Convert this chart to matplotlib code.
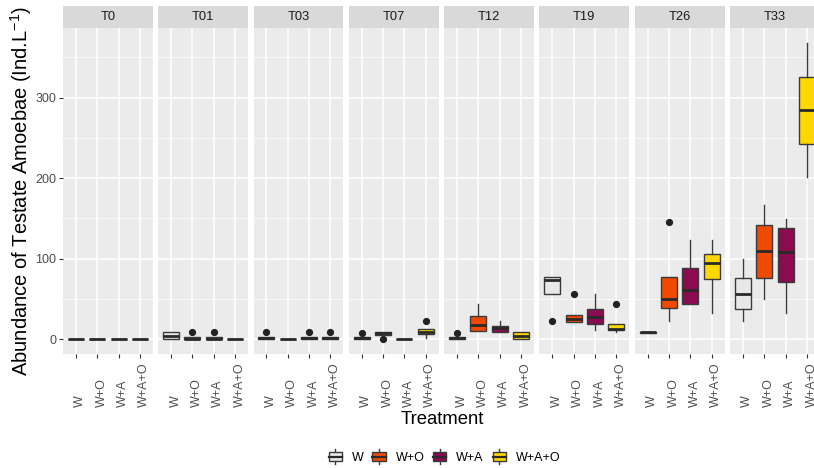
import matplotlib
matplotlib.use("Agg")
import matplotlib.pyplot as plt
from matplotlib.patches import Rectangle
from matplotlib.lines import Line2D
from matplotlib.legend_handler import HandlerBase
from matplotlib.transforms import blended_transform_factory, ScaledTranslation

plt.rcParams['font.family'] = ['Liberation Sans', 'DejaVu Sans']
plt.rcParams['mathtext.fontset'] = 'custom'
plt.rcParams['mathtext.rm'] = 'Liberation Sans'
plt.rcParams['mathtext.it'] = 'Liberation Sans:italic'

# Facets (sampling times) and treatments
times = ["T0", "T01", "T03", "T07", "T12", "T19", "T26", "T33"]
treatments = ["W", "W+O", "W+A", "W+A+O"]
fills = ["#E8E8E8", "#F04A00", "#8B0A50", "#FFD700"]

# Box statistics, one row per time, one value per treatment
whislo = [[0, 0, 0, 0],
          [0, 0, 0, 0],
          [0, 0, 0, 0],
          [0, 5.5, 0, 1],
          [0, 10, 9, 0],
          [55.5, 21.5, 11, 8.5],
          [8, 22.5, 44, 33],
          [22.5, 50.5, 33, 201]]
q1 = [[0, 0, 0, 0],
      [0, 0, 0, 0],
      [0, 0, 0, 0],
      [0, 5.5, 0, 6],
      [0, 10.5, 9.5, 0.5],
      [55.5, 21.5, 18.5, 11],
      [8, 39, 44, 75],
      [38, 75.5, 70.5, 242]]
med = [[0, 0, 0, 0],
       [4, 0.8, 0.8, 0],
       [1, 0, 1, 1],
       [1, 7.5, 0, 9],
       [1, 17, 14, 4],
       [73, 24.5, 27.5, 12.5],
       [8.3, 50, 60.5, 95],
       [55.5, 109, 108.5, 284.5]]
q3 = [[0, 0, 0, 0],
      [9, 2.5, 2.5, 0],
      [2.5, 0, 2.5, 2.5],
      [2.5, 9, 0, 12.5],
      [2.5, 28.5, 16.5, 8.5],
      [77.5, 30, 38, 19],
      [8.6, 77.5, 89, 105.5],
      [75.5, 141.5, 137.5, 325]]
whishi = [[0, 0, 0, 0],
          [9, 2.5, 2.5, 0],
          [2.5, 0, 2.5, 2.5],
          [2.5, 9, 0, 12.5],
          [2.5, 44, 22, 8.5],
          [77.5, 30, 55.5, 19],
          [8.6, 77.5, 123, 123],
          [100, 167, 149, 368]]
outliers = [[[], [], [], []],
            [[], [8.7], [8.7], []],
            [[8.7], [], [8.7], [8.7]],
            [[8], [0], [], [22]],
            [[8], [], [], []],
            [[22.5], [56], [], [44]],
            [[], [145], [], []],
            [[], [], [], []]]

edge = "#3A3A3A"

fig, axes = plt.subplots(1, 8, figsize=(8.14, 4.68), dpi=100, sharey=True)
fig.subplots_adjust(left=63/814, right=819.8/814, bottom=1-354/468,
                    top=1-28/468, wspace=0.0624)

pos = [1, 2, 3, 4]
for i, ax in enumerate(axes):
    stats = []
    for j in range(4):
        stats.append(dict(whislo=whislo[i][j], q1=q1[i][j], med=med[i][j],
                          q3=q3[i][j], whishi=whishi[i][j],
                          fliers=outliers[i][j]))
    bp = ax.bxp(stats, positions=pos, widths=0.75, patch_artist=True,
                showcaps=False,
                boxprops=dict(edgecolor=edge, linewidth=1.0),
                medianprops=dict(color="#2A2A2A", linewidth=2.0),
                whiskerprops=dict(color=edge, linewidth=1.0),
                flierprops=dict(marker='o', markersize=4.2,
                                markerfacecolor='#222222',
                                markeredgecolor='#222222'))
    for patch, c in zip(bp['boxes'], fills):
        patch.set_facecolor(c)

    ax.set_xlim(0.4, 4.6)
    ax.set_ylim(-18.4, 386.4)
    ax.set_facecolor('#EBEBEB')
    for s in ax.spines.values():
        s.set_visible(False)
    ax.set_yticks([0, 100, 200, 300])
    ax.set_yticks([50, 150, 250, 350], minor=True)
    ax.set_xticks(pos)
    ax.set_xticklabels([])
    ax.grid(which='major', color='white', linewidth=1.1)
    ax.grid(which='minor', axis='y', color='white', linewidth=0.5)
    ax.set_axisbelow(True)
    ax.tick_params(axis='x', length=3, color='#333333', width=0.8)
    ax.tick_params(axis='y', which='minor', length=0)
    if i == 0:
        ax.tick_params(axis='y', length=3, color='#333333', width=0.8,
                       labelsize=9, labelcolor='#4D4D4D', pad=2)
    else:
        ax.tick_params(axis='y', length=0, labelleft=False)

    # facet strip
    ax.add_patch(Rectangle((0, 1), 1, 22/326, transform=ax.transAxes,
                           facecolor='#D9D9D9', edgecolor='none',
                           clip_on=False))
    ax.text(0.5, 1 + 11/326, times[i], transform=ax.transAxes,
            ha='center', va='center', fontsize=9.3, color='#1A1A1A')

    # rotated category labels, bottom aligned
    tr = blended_transform_factory(ax.transData, fig.transFigure) + \
        ScaledTranslation(-1.5/100, 0, fig.dpi_scale_trans)
    for j, t in enumerate(treatments):
        ax.text(pos[j], 1 - 407/468, t, transform=tr, rotation=90,
                ha='left', va='bottom', fontsize=9, color='#4D4D4D')

fig.text(21/814, 1 - 191/468, 'Abundance of Testate Amoebae (Ind.L$^{-1}$)',
         rotation=90, ha='center', va='center', fontsize=14.5)
fig.text(442/814, 1 - 419/468, 'Treatment', ha='center', va='center',
         fontsize=13.3)


# legend keys drawn like small boxplots
class BoxKey(HandlerBase):
    def create_artists(self, legend, orig_handle, xdescent, ydescent,
                       width, height, fontsize, trans):
        x0, y0 = -xdescent, -ydescent
        xm = x0 + width / 2
        box = Rectangle((x0, y0 + 0.1 * height), width, 0.8 * height,
                        facecolor=orig_handle.get_facecolor(),
                        edgecolor=edge, linewidth=1.0, transform=trans)
        mid = Line2D([x0, x0 + width], [y0 + height / 2] * 2,
                     color='#2A2A2A', linewidth=1.6, transform=trans)
        w1 = Line2D([xm, xm], [y0 - 0.25 * height, y0 + 0.1 * height],
                    color=edge, linewidth=1.0, transform=trans)
        w2 = Line2D([xm, xm], [y0 + 0.9 * height, y0 + 1.25 * height],
                    color=edge, linewidth=1.0, transform=trans)
        return [w1, w2, box, mid]


handles = [Rectangle((0, 0), 1, 1, facecolor=c) for c in fills]
fig.legend(handles, treatments, handler_map={Rectangle: BoxKey()},
           loc='center', bbox_to_anchor=(444.5/814, 1 - 457.7/468),
           ncol=4, frameon=False, fontsize=9, handlelength=1.05,
           handleheight=0.9, handletextpad=0.8, columnspacing=0.7,
           borderpad=0)

fig.savefig('out.png', dpi=100)
